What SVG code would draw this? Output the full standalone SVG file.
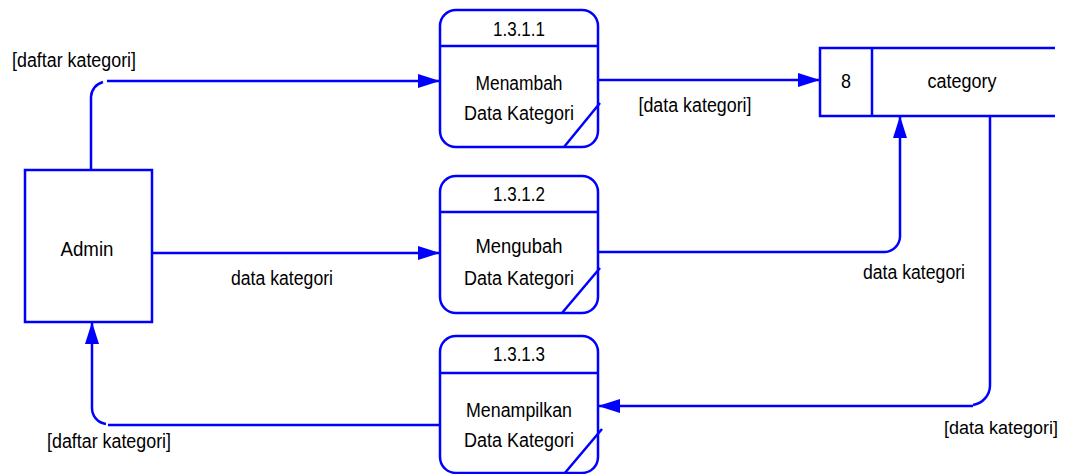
<svg xmlns="http://www.w3.org/2000/svg" width="1068" height="474" viewBox="0 0 1068 474">
<style>
.s{fill:#fff;stroke:#0000ff;stroke-width:2.5}
.l{fill:none;stroke:#0000ff;stroke-width:2.5}
text{font-family:"Liberation Sans",Arial,sans-serif;font-size:20px;fill:#000;text-anchor:middle}
text.e{text-anchor:end;font-size:18px}
</style>
<defs>
<marker id="a" viewBox="0 0 22 14" refX="22" refY="7" markerWidth="22" markerHeight="14" markerUnits="userSpaceOnUse" orient="auto">
<path d="M0,0 L22,7 L0,14 Z" fill="#0000ff"/>
</marker>
</defs>
<rect width="1068" height="474" fill="#fff"/>
<g id="admin">
<rect class="s" x="25" y="170" width="127" height="152"/>
<text x="87" y="256" textLength="53" lengthAdjust="spacingAndGlyphs">Admin</text>
</g>
<g id="store8">
<path class="s" d="M1055,48 H820 V116 H1055"/>
<line class="l" x1="872" y1="48" x2="872" y2="116"/>
<text x="846" y="88" textLength="10" lengthAdjust="spacingAndGlyphs">8</text>
<text x="962" y="88" textLength="69" lengthAdjust="spacingAndGlyphs">category</text>
</g>
<g id="p1311">
<rect class="s" x="440" y="10" width="158" height="137" rx="16"/>
<line class="l" x1="440" y1="46" x2="598" y2="46"/>
<line class="l" x1="564" y1="147" x2="600" y2="103"/>
<text x="519" y="36" textLength="52" lengthAdjust="spacingAndGlyphs">1.3.1.1</text>
<text x="519" y="90" textLength="87" lengthAdjust="spacingAndGlyphs">Menambah</text>
<text x="519" y="120" textLength="110" lengthAdjust="spacingAndGlyphs">Data Kategori</text>
</g>
<g id="p1312">
<rect class="s" x="440" y="176" width="158" height="137" rx="16"/>
<line class="l" x1="440" y1="212" x2="598" y2="212"/>
<line class="l" x1="562" y1="313" x2="600" y2="268"/>
<text x="519" y="201" textLength="52" lengthAdjust="spacingAndGlyphs">1.3.1.2</text>
<text x="519" y="253" textLength="87" lengthAdjust="spacingAndGlyphs">Mengubah</text>
<text x="519" y="285" textLength="110" lengthAdjust="spacingAndGlyphs">Data Kategori</text>
</g>
<g id="p1313">
<rect class="s" x="440" y="336" width="158" height="137" rx="16"/>
<line class="l" x1="440" y1="373" x2="598" y2="373"/>
<line class="l" x1="564" y1="474" x2="602" y2="429"/>
<text x="519" y="361" textLength="52" lengthAdjust="spacingAndGlyphs">1.3.1.3</text>
<text x="519" y="417" textLength="106" lengthAdjust="spacingAndGlyphs">Menampilkan</text>
<text x="519" y="447" textLength="110" lengthAdjust="spacingAndGlyphs">Data Kategori</text>
</g>
<g id="connectors">
<path class="l" d="M91,170 V97 A16,16 0 0 1 103,82"/>
<path class="l" d="M107,81 H440" marker-end="url(#a)"/>
<path class="l" d="M598,80 H820" marker-end="url(#a)"/>
<path class="l" d="M152,253 H440" marker-end="url(#a)"/>
<path class="l" d="M598,252 H885 A16,16 0 0 0 900,237 V116" marker-end="url(#a)"/>
<path class="l" d="M990,116 V385 A20,20 0 0 1 973,405"/>
<path class="l" d="M973,406 H598" marker-end="url(#a)"/>
<path class="l" d="M440,425 H108"/>
<path class="l" d="M106,424 A16,16 0 0 1 92,408 V322" marker-end="url(#a)"/>
<text x="74" y="67" textLength="124" lengthAdjust="spacingAndGlyphs">[daftar kategori]</text>
<text x="695" y="112" textLength="113" lengthAdjust="spacingAndGlyphs">[data kategori]</text>
<text x="282" y="285" textLength="102" lengthAdjust="spacingAndGlyphs">data kategori</text>
<text x="914" y="279" textLength="102" lengthAdjust="spacingAndGlyphs">data kategori</text>
<text class="e" x="1058" y="434">[data kategori]</text>
<text x="109" y="448" textLength="124" lengthAdjust="spacingAndGlyphs">[daftar kategori]</text>
</g>
</svg>
